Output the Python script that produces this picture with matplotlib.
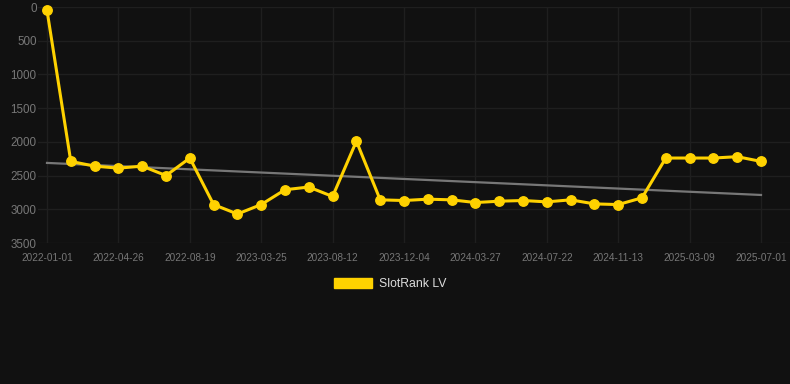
import numpy as np
from matplotlib import pyplot as plt
from matplotlib.patches import Patch

plt.rcParams['font.family'] = ['Liberation Sans', 'DejaVu Sans']

# category labels shown on the x axis (every third point)
tick_labels = ['2022-01-01', '2022-04-26', '2022-08-19', '2023-03-25', '2023-08-12',
               '2023-12-04', '2024-03-27', '2024-07-22', '2024-11-13', '2025-03-09',
               '2025-07-01']
tick_step = 3

# rank values (lower is better, axis inverted)
rank = [50, 2290, 2360, 2390, 2360, 2500, 2240, 2930, 3070, 2930,
        2710, 2670, 2810, 1990, 2860, 2870, 2850, 2860, 2900, 2880,
        2870, 2890, 2860, 2920, 2930, 2830, 2240, 2240, 2240, 2220,
        2290]

series_name = 'SlotRank LV'
bg = '#111111'
gold = '#FFD200'

W, H = 790, 384
fig = plt.figure(figsize=(W / 100, H / 100), dpi=100, facecolor=bg)
# plot area in pixels: left 38, right 790, top 7, bottom 243
ax = fig.add_axes([38 / W, 1 - 243 / H, (790 - 38) / W, (243 - 7) / H], facecolor=bg)

x = np.arange(len(rank))
y = np.array(rank)

# linear trend
coef = np.polyfit(x, y, 1)
ax.plot(x, np.polyval(coef, x), color='#777777', linewidth=1.6, zorder=2)

ax.plot(x, y, color=gold, linewidth=2.2, marker='o', markersize=6.8,
        markerfacecolor=gold, markeredgecolor=gold, zorder=3, clip_on=False)

px = 23.8
ax.set_xlim(-9 / px, 30 + 29 / px)
ax.set_ylim(3500, 0)

ax.set_xticks(x[::tick_step])
ax.set_xticklabels(tick_labels)
ax.set_yticks(np.arange(0, 3501, 500))
ax.tick_params(axis='x', colors='#777777', labelsize=7.2, length=0, pad=7)
ax.tick_params(axis='y', colors='#777777', labelsize=8.4, length=0, pad=1)

ax.grid(color='#1f1f1f', linewidth=1.0)
ax.set_axisbelow(True)
for s in ax.spines.values():
    s.set_visible(False)

handle = Patch(facecolor=gold, edgecolor=gold)
fig.legend([handle], [series_name], loc='center', bbox_to_anchor=(390 / W, 1 - 284 / H),
           frameon=False, handlelength=3.1, handleheight=0.9, handletextpad=0.55,
           fontsize=8.8, labelcolor='#dddddd')

fig.savefig('out.png', dpi=100, facecolor=bg)
